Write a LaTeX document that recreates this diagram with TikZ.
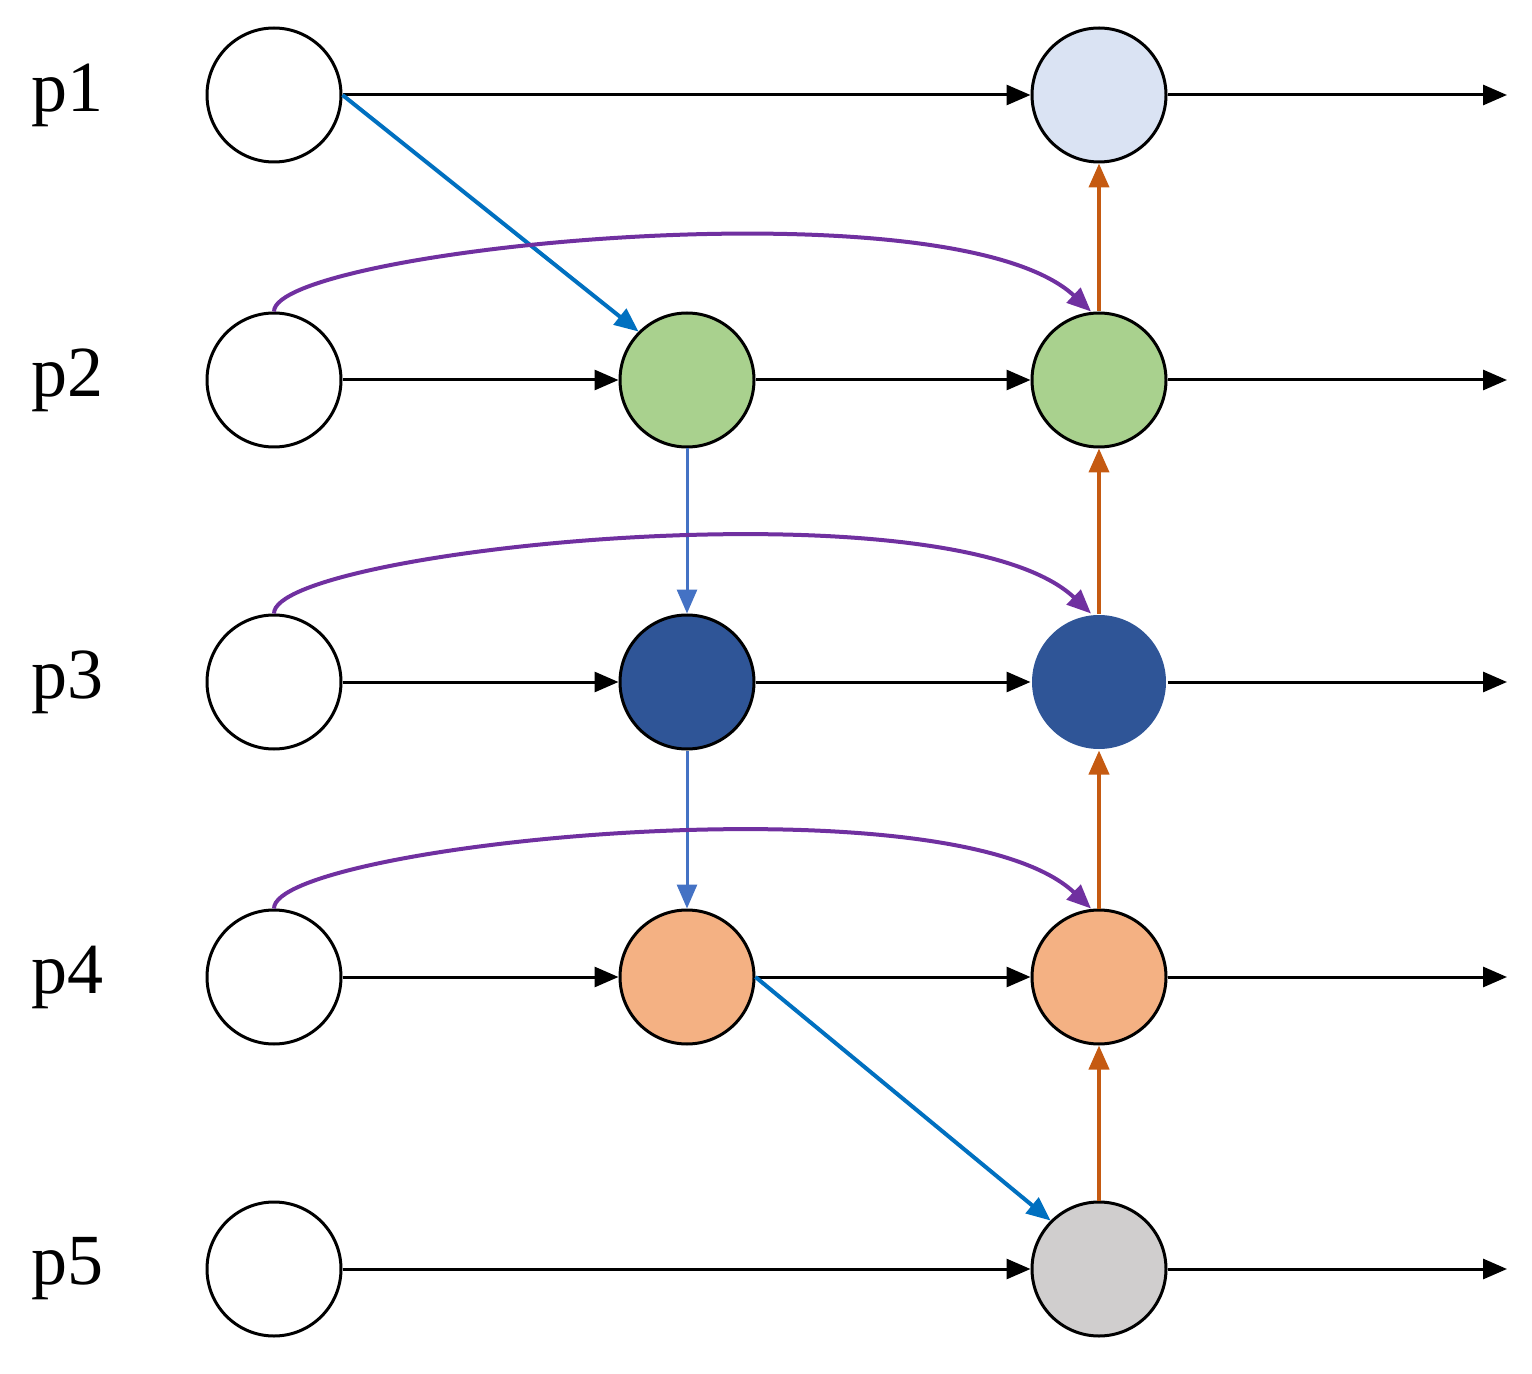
\documentclass[tikz,border=0pt]{standalone}
\usepackage{fontspec}
\setmainfont{Liberation Serif}
\usetikzlibrary{arrows.meta}
\definecolor{lb}{HTML}{DAE3F3}
\definecolor{gr}{HTML}{A9D18E}
\definecolor{db}{HTML}{2F5597}
\definecolor{og}{HTML}{F4B183}
\definecolor{gy}{HTML}{D0CECE}
\definecolor{bl}{HTML}{0070C0}
\definecolor{bl2}{HTML}{4472C4}
\definecolor{br}{HTML}{C55A11}
\definecolor{pu}{HTML}{7030A0}
\begin{document}
\begin{tikzpicture}[x=0.5pt,y=-0.5pt,
 n/.style={circle,draw=black,line width=1.5pt,minimum size=67pt,inner sep=0pt},
 a/.style={line width=1.5pt,-{Triangle[length=12pt,width=10pt]}},
 lab/.style={font=\fontsize{36}{40}\selectfont}]
\useasboundingbox (0,0) rectangle (1532,1374);
\foreach \r/\y in {1/95,2/380,3/682,4/977,5/1269}{
 \node[lab] (l\r) at (68,\y) {p\r};
 \node[n,fill=white] (w\r) at (274,\y) {};
 \coordinate (e\r) at (1507,\y);
}
\node[n,fill=lb] (c13) at (1099,95) {};
\node[n,fill=gr] (c22) at (687,380) {};
\node[n,fill=gr] (c23) at (1099,380) {};
\node[n,fill=db] (c32) at (687,682) {};
\node[n,fill=db,draw=none] (c33) at (1099,682) {};
\node[n,fill=og] (c42) at (687,977) {};
\node[n,fill=og] (c43) at (1099,977) {};
\node[n,fill=gy] (c53) at (1099,1269) {};
\draw[a] (w1)--(c13); \draw[a] (c13)--(e1);
\foreach \r in {2,3,4}{
 \draw[a] (w\r)--(c\r2); \draw[a] (c\r2)--(c\r3); \draw[a] (c\r3)--(e\r);}
\draw[a] (w5)--(c53); \draw[a] (c53)--(e5);
\draw[a,bl,line width=2pt] (w1.east)--(c22.north west);
\draw[a,bl,line width=2pt] (c42.east)--(c53.north west);
\draw[a,bl2,line width=1.5pt] (c22)--(c32);
\draw[a,bl2,line width=1.5pt] (c32)--(c42);
\draw[a,br,line width=2pt] (c23)--(c13);
\draw[a,br,line width=2pt] (c33)--(c23);
\draw[a,br,line width=2pt] (c43)--(c33);
\draw[a,br,line width=2pt] (c53)--(c43);
\draw[a,pu,line width=2pt] (w2.north) .. controls (274,250) and (950,180) .. ([xshift=-4pt]c23.north);
\draw[a,pu,line width=2pt] (w3.north) .. controls (274,550) and (950,480) .. ([xshift=-4pt]c33.north);
\draw[a,pu,line width=2pt] (w4.north) .. controls (274,845) and (950,775) .. ([xshift=-4pt]c43.north);
\end{tikzpicture}
\end{document}
